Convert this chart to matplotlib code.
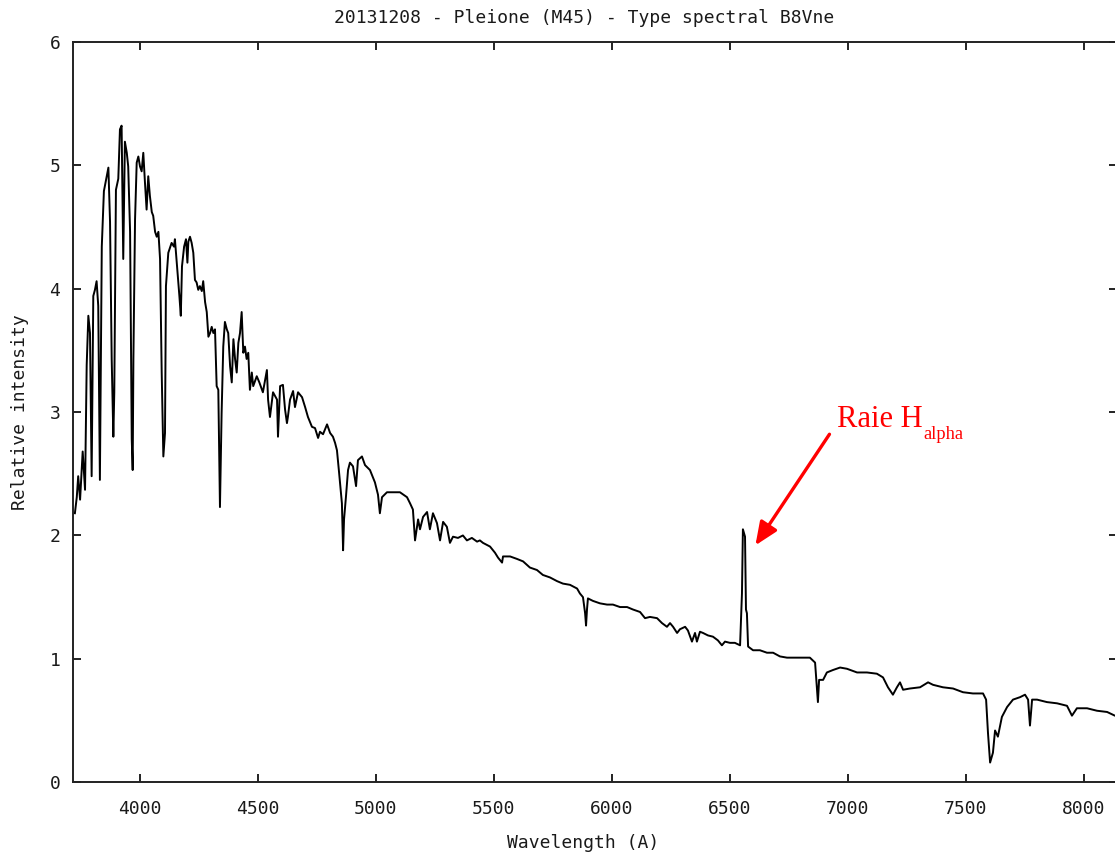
import matplotlib
matplotlib.use('Agg')
import matplotlib.pyplot as plt

# spectre de Pleione, 20131208
wavelength = [
    3724, 3732, 3738, 3746, 3757, 3767, 3774, 3781, 3788, 3795,
    3802, 3809, 3816, 3823, 3830, 3838, 3847, 3859, 3866, 3873,
    3880, 3887, 3891, 3898, 3908, 3915, 3922, 3929, 3936, 3944,
    3950, 3958, 3965, 3969, 3972, 3979, 3986, 3993, 4000, 4007,
    4014, 4021, 4028, 4035, 4042, 4050, 4056, 4064, 4071, 4078,
    4085, 4092, 4099, 4106, 4110, 4120, 4134, 4144, 4148, 4156,
    4167, 4173, 4178, 4187, 4195, 4201, 4205, 4212, 4219, 4226,
    4233, 4240, 4247, 4254, 4262, 4268, 4276, 4283, 4290, 4297,
    4304, 4311, 4318, 4325, 4332, 4339, 4346, 4353, 4360, 4368,
    4374, 4382, 4389, 4396, 4403, 4410, 4417, 4424, 4431, 4438,
    4445, 4452, 4459, 4466, 4474, 4480, 4495, 4506, 4521, 4538,
    4543, 4551, 4564, 4581, 4585, 4594, 4606, 4615, 4623, 4627,
    4636, 4649, 4657, 4670, 4687, 4700, 4712, 4729, 4742, 4755,
    4763, 4776, 4793, 4806, 4818, 4827, 4835, 4844, 4856, 4861,
    4865, 4873, 4882, 4890, 4903, 4916, 4924, 4941, 4954, 4975,
    4996, 5009, 5017, 5026, 5047, 5073, 5102, 5132, 5145, 5157,
    5166, 5179, 5187, 5200, 5217, 5229, 5242, 5259, 5272, 5285,
    5301, 5314, 5327, 5348, 5369, 5386, 5407, 5429, 5441, 5454,
    5484, 5505, 5518, 5535, 5539, 5569, 5598, 5624, 5653, 5683,
    5708, 5738, 5768, 5793, 5823, 5853, 5865, 5878, 5887, 5891,
    5895, 5899, 5920, 5950, 5980, 6005, 6035, 6065, 6090, 6120,
    6141, 6162, 6192, 6213, 6234, 6247, 6260, 6277, 6289, 6311,
    6323, 6340, 6353, 6361, 6374, 6387, 6408, 6429, 6450, 6467,
    6480, 6501, 6522, 6544, 6552, 6556, 6565, 6569, 6573, 6578,
    6599, 6628, 6658, 6684, 6713, 6743, 6798, 6840, 6862, 6870,
    6874, 6879, 6896, 6912, 6938, 6968, 6997, 7040, 7082, 7124,
    7150, 7171, 7192, 7209, 7222, 7235, 7264, 7307, 7341, 7362,
    7404, 7447, 7489, 7531, 7574, 7587, 7595, 7604, 7616, 7625,
    7637, 7654, 7676, 7701, 7731, 7752, 7765, 7773, 7782, 7803,
    7845, 7888, 7930, 7951, 7972, 8015, 8057, 8100, 8133, 8145,
]
intensity = [
    2.18, 2.31, 2.48, 2.29, 2.68, 2.37, 3.38, 3.78, 3.64, 2.48,
    3.94, 3.99, 4.06, 3.86, 2.45, 4.34, 4.79, 4.91, 4.98, 4.54,
    3.43, 2.80, 3.16, 4.80, 4.89, 5.29, 5.32, 4.24, 5.19, 5.10,
    4.99, 4.46, 2.78, 2.53, 3.43, 4.56, 5.02, 5.07, 4.99, 4.95,
    5.10, 4.86, 4.64, 4.91, 4.75, 4.62, 4.59, 4.46, 4.42, 4.46,
    4.24, 3.32, 2.64, 2.83, 4.02, 4.29, 4.37, 4.34, 4.40, 4.21,
    3.94, 3.78, 4.18, 4.34, 4.40, 4.21, 4.38, 4.42, 4.37, 4.29,
    4.07, 4.05, 3.99, 4.02, 3.98, 4.06, 3.89, 3.81, 3.61, 3.64,
    3.69, 3.64, 3.67, 3.21, 3.18, 2.23, 2.99, 3.53, 3.73, 3.67,
    3.64, 3.37, 3.24, 3.59, 3.43, 3.32, 3.56, 3.64, 3.81, 3.48,
    3.53, 3.43, 3.48, 3.18, 3.32, 3.21, 3.29, 3.24, 3.16, 3.34,
    3.10, 2.96, 3.16, 3.10, 2.80, 3.21, 3.22, 3.02, 2.91, 2.96,
    3.10, 3.17, 3.04, 3.16, 3.12, 3.04, 2.96, 2.88, 2.87, 2.79,
    2.84, 2.82, 2.90, 2.83, 2.80, 2.75, 2.69, 2.51, 2.26, 1.88,
    2.13, 2.31, 2.53, 2.59, 2.56, 2.40, 2.61, 2.64, 2.57, 2.53,
    2.43, 2.33, 2.18, 2.31, 2.35, 2.35, 2.35, 2.31, 2.26, 2.21,
    1.96, 2.13, 2.05, 2.15, 2.19, 2.05, 2.18, 2.10, 1.96, 2.11,
    2.07, 1.94, 1.99, 1.98, 2.00, 1.96, 1.98, 1.95, 1.96, 1.94,
    1.91, 1.86, 1.82, 1.78, 1.83, 1.83, 1.81, 1.79, 1.74, 1.72,
    1.68, 1.66, 1.63, 1.61, 1.60, 1.57, 1.53, 1.50, 1.37, 1.27,
    1.40, 1.49, 1.47, 1.45, 1.44, 1.44, 1.42, 1.42, 1.40, 1.38,
    1.33, 1.34, 1.33, 1.29, 1.26, 1.29, 1.26, 1.21, 1.24, 1.26,
    1.23, 1.14, 1.21, 1.14, 1.22, 1.21, 1.19, 1.18, 1.15, 1.11,
    1.14, 1.13, 1.13, 1.11, 1.53, 2.05, 1.99, 1.40, 1.37, 1.10,
    1.07, 1.07, 1.05, 1.05, 1.02, 1.01, 1.01, 1.01, 0.97, 0.75,
    0.65, 0.83, 0.83, 0.89, 0.91, 0.93, 0.92, 0.89, 0.89, 0.88,
    0.85, 0.77, 0.71, 0.77, 0.81, 0.75, 0.76, 0.77, 0.81, 0.79,
    0.77, 0.76, 0.73, 0.72, 0.72, 0.67, 0.40, 0.16, 0.24, 0.42,
    0.37, 0.53, 0.61, 0.67, 0.69, 0.71, 0.67, 0.46, 0.67, 0.67,
    0.65, 0.64, 0.62, 0.54, 0.60, 0.60, 0.58, 0.57, 0.54, 0.54,
]

x_ticks = [4000, 4500, 5000, 5500, 6000, 6500, 7000, 7500, 8000]
y_ticks = [0, 1, 2, 3, 4, 5, 6]

title = "20131208 - Pleione (M45) - Type spectral B8Vne"
halpha_tip = (6609, 1.92)
halpha_tail = (6923, 2.82)
halpha_text = (6955, 2.88)

mono = 'DejaVu Sans Mono'
serif = 'Liberation Serif'
frame = '#222222'

fig = plt.figure(figsize=(11.15, 8.55), dpi=100)
ax = fig.add_axes([0.0659, 0.0850, 0.9359, 0.8662])

ax.plot(wavelength, intensity, color='black', lw=1.4)

ax.set_xlim(3718, 8142)
ax.set_ylim(0, 6)
ax.set_xticks(x_ticks)
ax.set_yticks(y_ticks)

for s in ax.spines.values():
    s.set_color(frame)
    s.set_linewidth(1.4)

ax.tick_params(axis='both', direction='in', length=5.8, width=1.4,
               color=frame, top=True, right=True, labelsize=13,
               labelcolor='#1a1a1a')
ax.tick_params(axis='x', pad=13)
ax.tick_params(axis='y', pad=9.5)
for lab in ax.get_xticklabels() + ax.get_yticklabels():
    lab.set_family(mono)

fig.text(584 / 1115, 1 - 18 / 855, title, ha='center', va='center',
         family=mono, fontsize=13, color='#1a1a1a')
fig.text(583 / 1115, 1 - 843 / 855, "Wavelength (A)", ha='center',
         va='center', family=mono, fontsize=13, color='#1a1a1a')
fig.text(20 / 1115, 1 - 412 / 855, "Relative intensity", ha='center',
         va='center', rotation=90, family=mono, fontsize=13, color='#1a1a1a')

# fleche vers la raie H alpha
ax.annotate('', xy=halpha_tip, xytext=halpha_tail,
            arrowprops=dict(arrowstyle='-|>,head_length=0.7,head_width=0.3',
                            color='red', lw=2.4, mutation_scale=20,
                            shrinkA=0, shrinkB=0))
t = ax.text(halpha_text[0], halpha_text[1], "Raie H", color='red',
            family=serif, fontsize=22, va='baseline', ha='left')
ax.annotate("alpha", xy=(1, 0), xycoords=t, xytext=(0.5, -3.9),
            textcoords='offset points', color='red', family=serif,
            fontsize=13.3, va='baseline', ha='left')

fig.savefig('out.png', dpi=100)
